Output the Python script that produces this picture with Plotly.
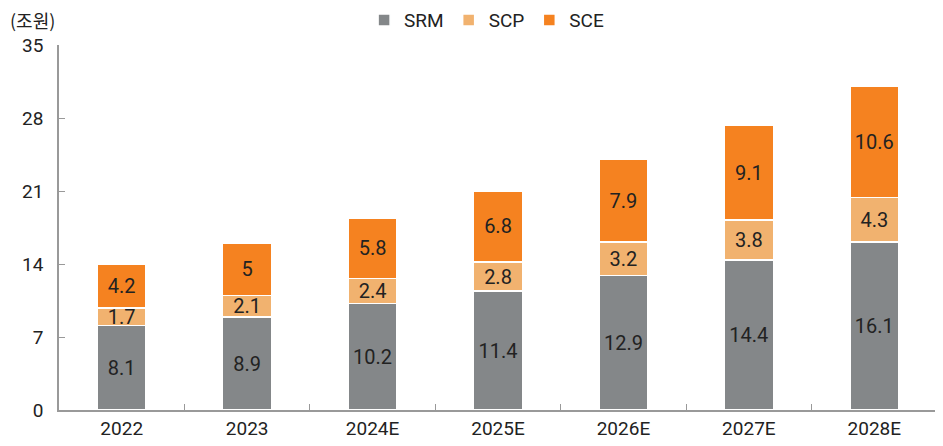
import plotly.graph_objects as go

categories = ["2022", "2023", "2024E", "2025E", "2026E", "2027E", "2028E"]
srm = [8.1, 8.9, 10.2, 11.4, 12.9, 14.4, 16.1]
scp = [1.7, 2.1, 2.4, 2.8, 3.2, 3.8, 4.3]
sce = [4.2, 5, 5.8, 6.8, 7.9, 9.1, 10.6]
y_ticks = [0, 7, 14, 21, 28, 35]

series = [("SRM", srm, "#848789"), ("SCP", scp, "#F1B26F"), ("SCE", sce, "#F58220")]

fig = go.Figure()
for name, vals, color in series:
    fig.add_trace(go.Bar(
        name=name, x=categories, y=vals,
        marker=dict(color=color, line=dict(color="white", width=1.5)),
        text=[str(v) for v in vals], textposition="inside",
        insidetextanchor="middle", textangle=0, constraintext="none",
        textfont=dict(color="#222222", size=20),
    ))

fig.update_layout(
    barmode="stack", bargap=0.61,
    width=943, height=446,
    margin=dict(l=51, r=14, t=37, b=44, autoexpand=False),
    plot_bgcolor="white", paper_bgcolor="white",
    font=dict(family="Roboto, Noto Sans CJK KR, sans-serif", size=19, color="#222222"),
    uniformtext=dict(mode="show", minsize=20),
    legend=dict(orientation="h", x=0.487, xanchor="center", y=1.068, yanchor="middle",
                font=dict(size=19), itemwidth=30, traceorder="normal"),
    showlegend=True,
)
fig.update_xaxes(showline=True, linecolor="#999999", linewidth=1.5,
                 ticks="inside", tickson="boundaries", ticklen=6, tickcolor="#999999",
                 showgrid=False, tickfont=dict(size=19))
fig.update_yaxes(range=[0, 35], tickvals=y_ticks, showline=True, linecolor="#999999",
                 linewidth=1.5, ticks="inside", ticklen=6, tickcolor="#999999",
                 showgrid=False, zeroline=False, tickfont=dict(size=19), ticklabelstandoff=10)
fig.add_annotation(text="(조원)", xref="paper", yref="paper", x=-0.058, y=1.068,
                   xanchor="left", yanchor="middle", showarrow=False,
                   font=dict(size=18, family="Noto Sans CJK KR"))
fig.write_html("out.html")
